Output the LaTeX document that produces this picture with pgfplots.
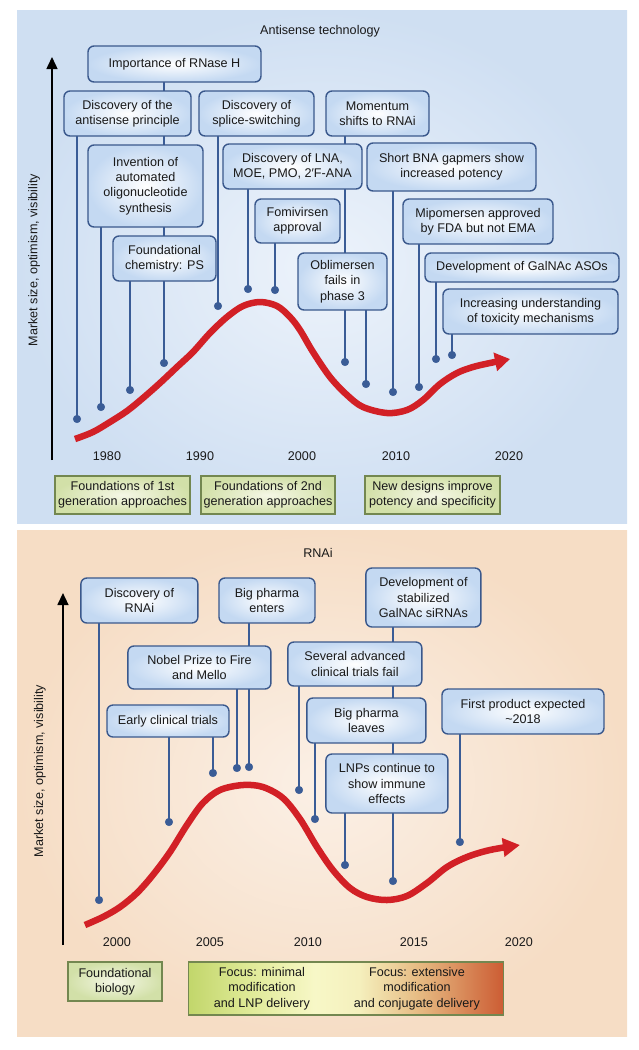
\documentclass[border=0pt]{standalone}
\usepackage{pgfplots}
\pgfplotsset{compat=1.18}
\usepackage{fontspec}
\setmainfont{Liberation Sans}
\usetikzlibrary{arrows.meta}

\definecolor{boxborder}{RGB}{58,88,140}
\definecolor{boxouter}{RGB}{196,217,242}
\definecolor{stemcol}{RGB}{58,92,150}
\definecolor{curvered}{RGB}{210,32,38}
\definecolor{greenborder}{RGB}{115,135,80}
\definecolor{greeninner}{RGB}{245,247,230}
\definecolor{greenouter}{RGB}{210,224,168}
\definecolor{topbgout}{RGB}{207,223,242}
\definecolor{topbgin}{RGB}{237,243,251}
\definecolor{botbgout}{RGB}{246,221,197}
\definecolor{botbgin}{RGB}{251,240,230}
\definecolor{txt}{RGB}{25,25,25}

\pgfdeclarehorizontalshading{focus}{100bp}{rgb(0bp)=(0.76,0.84,0.42); rgb(25bp)=(0.76,0.84,0.42); rgb(35bp)=(0.88,0.92,0.60); rgb(45bp)=(0.97,0.97,0.78); rgb(52bp)=(0.96,0.94,0.74); rgb(62bp)=(0.90,0.72,0.50); rgb(75bp)=(0.80,0.36,0.20); rgb(100bp)=(0.80,0.36,0.20)}

\newcommand{\fs}{\fontsize{12.6bp}{15.3bp}\selectfont}

\tikzset{
  box/.style 2 args={draw=boxborder, line width=1.4bp, rounded corners=6bp,
    inner color=white, outer color=boxouter, align=center, font=\fs, text=txt,
    inner sep=0pt, minimum width=#1bp, minimum height=#2bp},
  gbox/.style 2 args={draw=greenborder, line width=1.1bp,
    inner color=greeninner, outer color=greenouter, align=center, font=\fs, text=txt,
    inner sep=0pt, minimum width=#1bp, minimum height=#2bp},
  yr/.style={font=\fs, text=txt},
}
\pgfplotsset{
  stem/.style={draw=stemcol, line width=1.4bp, mark=*, mark indices={2},
    mark size=3.9bp, mark options={fill=stemcol, draw=stemcol, line width=0.2bp, solid}},
  redcurve/.style={draw=curvered, line width=6.5bp, smooth, tension=0.55, mark=none},
  panel/.style={scale only axis, clip=false, axis line style={draw=none},
    xtick=\empty, ytick=\empty, y dir=reverse, anchor=north west},
}

\begin{document}
\begin{tikzpicture}
\useasboundingbox (0,0) rectangle (639bp,-1050bp);

% ================= Antisense technology =================
\begin{axis}[panel, at={(17bp,-10bp)}, width=610bp, height=513bp,
  xmin=1971.42, xmax=2032.42, ymin=10, ymax=523,
  axis background/.style={inner color=topbgin, outer color=topbgout}]

% stems (x = year, from box to dot)
\addplot[stem] coordinates {(1977.42,113.5) (1977.42,419)};
\addplot[stem] coordinates {(1979.82,186) (1979.82,407)};
\addplot[stem] coordinates {(1982.72,258.5) (1982.72,390)};
\addplot[stem] coordinates {(1986.12,64) (1986.12,363)};
\addplot[stem] coordinates {(1991.52,113.5) (1991.52,306)};
\addplot[stem] coordinates {(1994.52,166.5) (1994.52,289)};
\addplot[stem] coordinates {(1997.22,221) (1997.22,290)};
\addplot[stem] coordinates {(2004.22,113.5) (2004.22,362)};
\addplot[stem] coordinates {(2006.32,281.5) (2006.32,384)};
\addplot[stem] coordinates {(2009.02,167) (2009.02,392)};
\addplot[stem] coordinates {(2011.62,221.5) (2011.62,387)};
\addplot[stem] coordinates {(2013.32,267.5) (2013.32,359)};
\addplot[stem] coordinates {(2014.92,311.5) (2014.92,355)};

% hype curve
\addplot[redcurve, -{Triangle[length=15bp,width=18bp]}] coordinates {
(1977.22,439) (1979.02,432) (1980.72,422) (1982.42,411) (1984.02,398)
(1985.72,383) (1987.42,367) (1989.02,352) (1990.72,333) (1992.42,317)
(1994.02,306) (1995.72,302) (1997.42,306) (1998.72,317) (1999.72,330)
(2001.02,352) (2002.72,377) (2004.42,395) (2006.02,407) (2008.42,413)
(2010.42,410) (2012.02,400) (2013.72,384) (2015.42,373) (2017.02,367)
(2018.72,363) (2020.72,359)};

% y axis arrow and label
\draw[line width=1.5bp, -{Triangle[length=12bp,width=11bp]}] (axis cs:1974.92,460) -- (axis cs:1974.92,57);
\node[font=\fs, text=txt, rotate=90] at (axis cs:1973.12,260) {Market size, optimism, visibility};
\node[font=\fs, text=txt] at (axis cs:2001.72,31) {Antisense technology};

% year labels
\node[yr] at (axis cs:1980.42,456) {1980};
\node[yr] at (axis cs:1989.72,456) {1990};
\node[yr] at (axis cs:1999.92,456) {2000};
\node[yr] at (axis cs:2009.32,456) {2010};
\node[yr] at (axis cs:2020.62,456) {2020};

% event boxes
\node[box={173}{36}] at (axis cs:1987.17,64) {Importance of RNase H};
\node[box={127}{45}] at (axis cs:1982.47,113.5) {Discovery of the\\antisense principle};
\node[box={115}{82}] at (axis cs:1984.27,186) {Invention of\\automated\\oligonucleotide\\synthesis};
\node[box={103}{45}] at (axis cs:1986.17,258.5) {Foundational\\chemistry: PS};
\node[box={115}{45}] at (axis cs:1995.37,113.5) {Discovery of\\splice-switching};
\node[box={139}{45}] at (axis cs:1998.97,166.5) {Discovery of LNA,\\MOE, PMO, 2′F-ANA};
\node[box={85}{44}] at (axis cs:1999.47,221) {Fomivirsen\\approval};
\node[box={103}{45}] at (axis cs:2007.47,113.5) {Momentum\\shifts to RNAi};
\node[box={89}{57}] at (axis cs:2003.97,281.5) {Oblimersen\\fails in\\phase 3};
\node[box={169}{48}] at (axis cs:2014.87,167) {Short BNA gapmers show\\increased potency};
\node[box={150}{45}] at (axis cs:2017.52,221.5) {Mipomersen approved\\by FDA but not EMA};
\node[box={194}{29}] at (axis cs:2021.92,267.5) {Development of GalNAc ASOs};
\node[box={175}{45}] at (axis cs:2022.77,311.5) {Increasing understanding\\of toxicity mechanisms};

% era boxes
\node[gbox={135}{38}] at (axis cs:1981.97,495) {Foundations of 1st\\generation approaches};
\node[gbox={134}{38}] at (axis cs:1996.52,495) {Foundations of 2nd\\generation approaches};
\node[gbox={135}{38}] at (axis cs:2012.97,495) {New designs improve\\potency and specificity};
\end{axis}

% ================= RNAi =================
\begin{axis}[panel, at={(17bp,-530bp)}, width=610bp, height=506bp,
  xmin=1995.29, xmax=2025.55, ymin=530, ymax=1036,
  axis background/.style={inner color=botbgin, outer color=botbgout}]

\addplot[stem] coordinates {(1999.36,600.5) (1999.36,900)};
\addplot[stem] coordinates {(2002.83,721) (2002.83,822)};
\addplot[stem] coordinates {(2005.01,721) (2005.01,773)};
\addplot[stem] coordinates {(2006.20,667.5) (2006.20,768)};
\addplot[stem] coordinates {(2006.80,600.5) (2006.80,767)};
\addplot[stem] coordinates {(2009.28,664) (2009.28,790)};
\addplot[stem] coordinates {(2010.07,720.5) (2010.07,819)};
\addplot[stem] coordinates {(2011.56,783.5) (2011.56,865)};
\addplot[stem] coordinates {(2013.94,597.5) (2013.94,881)};
\addplot[stem] coordinates {(2017.26,711.5) (2017.26,842)};

\addplot[redcurve, -{Triangle[length=17bp,width=18bp]}] coordinates {
(1998.66,925) (1999.55,917) (2000.40,907) (2001.24,893) (2002.03,875)
(2002.88,852) (2003.72,825) (2004.51,803) (2005.36,790) (2006.50,785)
(2007.49,787) (2008.48,798) (2009.33,819) (2010.17,847) (2010.96,870)
(2011.81,888) (2012.65,897) (2013.64,900) (2014.63,896) (2015.63,883)
(2016.62,867) (2017.61,857) (2018.75,850) (2020.24,845)};

\draw[line width=1.5bp, -{Triangle[length=12bp,width=11bp]}] (axis cs:1997.57,945) -- (axis cs:1997.57,593);
\node[font=\fs, text=txt, rotate=90] at (axis cs:1996.43,771) {Market size, optimism, visibility};
\node[font=\fs, text=txt] at (axis cs:2010.22,553) {RNAi};

\node[yr] at (axis cs:2000.25,942) {2000};
\node[yr] at (axis cs:2004.86,942) {2005};
\node[yr] at (axis cs:2009.72,942) {2010};
\node[yr] at (axis cs:2014.98,942) {2015};
\node[yr] at (axis cs:2020.19,942) {2020};

\node[box={117}{45}] at (axis cs:2001.36,600.5) {Discovery of\\RNAi};
\node[box={96}{45}] at (axis cs:2007.69,600.5) {Big pharma\\enters};
\node[box={143}{43}] at (axis cs:2004.34,667.5) {Nobel Prize to Fire\\and Mello};
\node[box={122}{32}] at (axis cs:2002.78,721) {Early clinical trials};
\node[box={115}{59}] at (axis cs:2015.45,597.5) {Development of\\stabilized\\GalNAc siRNAs};
\node[box={134}{44}] at (axis cs:2012.05,664) {Several advanced\\clinical trials fail};
\node[box={119}{45}] at (axis cs:2012.62,720.5) {Big pharma\\leaves};
\node[box={122}{59}] at (axis cs:2013.64,783.5) {LNPs continue to\\show immune\\effects};
\node[box={162}{45}] at (axis cs:2020.39,711.5) {First product expected\\\textasciitilde2018};

\node[gbox={94}{39}] at (axis cs:2000.15,981.5) {Foundational\\biology};
\node[draw=greenborder, line width=1.1bp, shading=focus, minimum width=315bp,
  minimum height=53bp, inner sep=0pt] at (axis cs:2011.63,988.5) {};
\node[font=\fs, text=txt, align=center] at (axis cs:2007.44,988.5) {Focus: minimal\\modification\\and LNP delivery};
\node[font=\fs, text=txt, align=center] at (axis cs:2015.13,988.5) {Focus: extensive\\modification\\and conjugate delivery};
\end{axis}
\end{tikzpicture}
\end{document}
